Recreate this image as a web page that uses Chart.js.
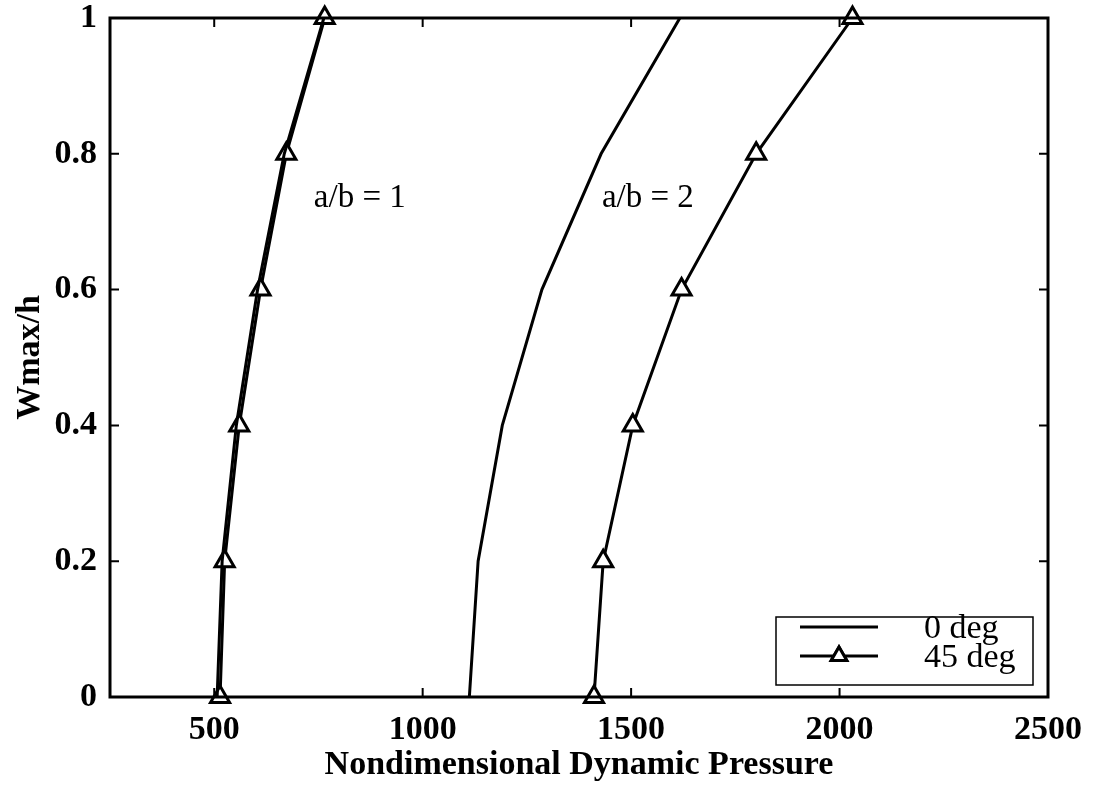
<!DOCTYPE html>
<html>
<head>
<meta charset="utf-8">
<title>Wmax/h vs Nondimensional Dynamic Pressure</title>
<script src="https://cdn.jsdelivr.net/npm/chart.js@4/dist/chart.umd.min.js"></script>
<style>
  html, body { margin: 0; padding: 0; background: #fff; }
  #wrap { width: 1093px; height: 790px; position: relative; }
</style>
</head>
<body>
<div id="wrap"><canvas id="chart"></canvas></div>
<script>
// deflection levels (y) and flutter pressures (x) for each case
const wLevels = [0, 0.2, 0.4, 0.6, 0.8, 1];
const ab1Deg0 = [507, 519, 553, 604, 668, 763];
const ab1Deg45 = [514, 525, 560, 611, 673, 765];
const ab2Deg0 = [1112, 1133, 1191, 1286, 1428, 1617];
const ab2Deg45 = [1411, 1433, 1504, 1621, 1800, 2031];

const xTicks = [500, 1000, 1500, 2000, 2500];
const yTicks = [0, 0.2, 0.4, 0.6, 0.8, 1];
const legendLabels = ['0 deg', '45 deg'];

const serif = '"Liberation Serif", "Times New Roman", serif';

function pts(xs) {
    return xs.map((x, i) => ({ x: x, y: wLevels[i] }));
}

function lineSet(label, xs, withMarker) {
    return {
        label: label,
        data: pts(xs),
        borderColor: '#000',
        borderWidth: 3,
        tension: 0,
        clip: false,
        pointStyle: 'triangle',
        pointRadius: withMarker ? 11 : 0,
        pointBorderWidth: 3,
        pointBackgroundColor: '#fff',
        pointBorderColor: '#000'
    };
}

// box around the plot with inward ticks on all four sides
const framePlugin = {
    id: 'frame',
    afterDatasetsDraw(chart) {
        const { ctx, chartArea: a, scales } = chart;
        ctx.save();
        ctx.strokeStyle = '#000';
        ctx.lineWidth = 2;
        const len = 9;
        ctx.beginPath();
        xTicks.forEach(v => {
            const px = scales.x.getPixelForValue(v);
            ctx.moveTo(px, a.bottom); ctx.lineTo(px, a.bottom - len);
            ctx.moveTo(px, a.top); ctx.lineTo(px, a.top + len);
        });
        yTicks.forEach(v => {
            const py = scales.y.getPixelForValue(v);
            ctx.moveTo(a.left, py); ctx.lineTo(a.left + len, py);
            ctx.moveTo(a.right, py); ctx.lineTo(a.right - len, py);
        });
        ctx.stroke();
        ctx.lineWidth = 3;
        ctx.strokeRect(a.left, a.top, a.right - a.left, a.bottom - a.top);
        ctx.restore();
    }
};

// text labels next to each pair of curves
const notes = [
    { text: 'a/b = 1', x: 739, y: 0.722 },
    { text: 'a/b = 2', x: 1430, y: 0.722 }
];

const notesPlugin = {
    id: 'notes',
    afterDraw(chart) {
        const { ctx, scales } = chart;
        ctx.save();
        ctx.fillStyle = '#000';
        ctx.font = '33px ' + serif;
        ctx.textBaseline = 'alphabetic';
        ctx.textAlign = 'left';
        notes.forEach(n => {
            ctx.fillText(n.text, scales.x.getPixelForValue(n.x), scales.y.getPixelForValue(n.y));
        });
        ctx.restore();
    }
};

// legend box in the lower right corner, styled from the first two datasets
const boxLegend = {
    id: 'boxLegend',
    afterDraw(chart) {
        const { ctx, chartArea: a } = chart;
        const x0 = a.right - 272, x1 = a.right - 15;
        const y0 = a.bottom - 80, y1 = a.bottom - 12;
        ctx.save();
        ctx.fillStyle = '#fff';
        ctx.fillRect(x0, y0, x1 - x0, y1 - y0);
        ctx.strokeStyle = '#000';
        ctx.lineWidth = 1.5;
        ctx.strokeRect(x0, y0, x1 - x0, y1 - y0);
        ctx.font = '34px ' + serif;
        ctx.textBaseline = 'middle';
        ctx.textAlign = 'left';
        legendLabels.forEach((lbl, i) => {
            const ds = chart.data.datasets[i];
            const ry = y0 + 10 + i * 29;
            ctx.lineWidth = 3;
            ctx.beginPath();
            ctx.moveTo(x0 + 24, ry);
            ctx.lineTo(x0 + 102, ry);
            ctx.stroke();
            if (ds.pointRadius > 0) {
                ctx.fillStyle = '#fff';
                Chart.helpers.drawPoint(ctx, {
                    pointStyle: 'triangle',
                    radius: 9,
                    borderWidth: 2
                }, x0 + 63, ry);
                ctx.fill();
                ctx.stroke();
            }
            ctx.fillStyle = '#000';
            ctx.fillText(lbl, x0 + 148, ry + 2);
        });
        ctx.restore();
    }
};

new Chart(document.getElementById('chart'), {
    type: 'line',
    data: {
        datasets: [
            lineSet('0 deg', ab1Deg0, false),
            lineSet('45 deg', ab1Deg45, true),
            lineSet('0 deg a/b=2', ab2Deg0, false),
            lineSet('45 deg a/b=2', ab2Deg45, true)
        ]
    },
    options: {
        responsive: true,
        maintainAspectRatio: false,
        animation: false,
        layout: { padding: { top: 18, right: 45, left: 0, bottom: 0 } },
        plugins: {
            legend: { display: false },
            tooltip: { enabled: false }
        },
        scales: {
            x: {
                type: 'linear',
                min: 250,
                max: 2500,
                afterBuildTicks: s => { s.ticks = xTicks.map(v => ({ value: v })); },
                afterFit: s => { s.height = 93; s.paddingLeft = 0; s.paddingRight = 0; },
                border: { display: false },
                grid: { display: false, drawTicks: false },
                ticks: {
                    color: '#000',
                    padding: 13,
                    maxRotation: 0,
                    font: { family: serif, size: 34, weight: 'bold' },
                    callback: v => String(v)
                },
                title: {
                    display: true,
                    text: 'Nondimensional Dynamic Pressure',
                    color: '#000',
                    padding: { top: 0, bottom: 4 },
                    font: { family: serif, size: 34, weight: 'bold' }
                }
            },
            y: {
                type: 'linear',
                min: 0,
                max: 1,
                afterBuildTicks: s => { s.ticks = yTicks.map(v => ({ value: v })); },
                afterFit: s => { s.width = 110; s.paddingTop = 0; s.paddingBottom = 0; },
                border: { display: false },
                grid: { display: false, drawTicks: false },
                ticks: {
                    color: '#000',
                    padding: 13,
                    font: { family: serif, size: 34, weight: 'bold' },
                    callback: v => String(v)
                },
                title: {
                    display: true,
                    text: 'Wmax/h',
                    color: '#000',
                    padding: { top: 10, bottom: 0 },
                    font: { family: serif, size: 34, weight: 'bold' }
                }
            }
        }
    },
    plugins: [framePlugin, notesPlugin, boxLegend]
});
</script>
</body>
</html>
